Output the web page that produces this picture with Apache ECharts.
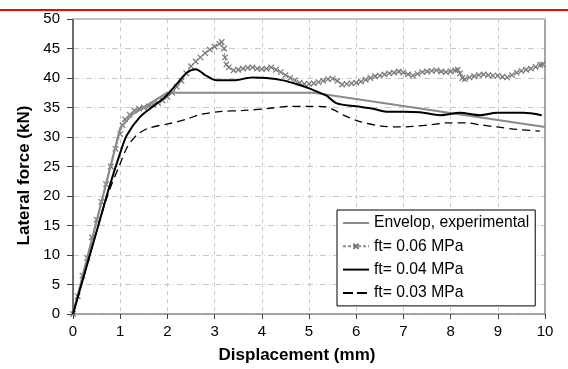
<!DOCTYPE html>
<html>
<head>
<meta charset="utf-8">
<script src="https://cdn.jsdelivr.net/npm/echarts@6/dist/echarts.min.js"></script>
<style>
html,body{margin:0;padding:0;background:#fff;}
#c{width:568px;height:369px;}
</style>
</head>
<body>
<div id="c"></div>
<script>
// ---- data ----
var xTicks = [0,1,2,3,4,5,6,7,8,9,10];
var yTicks = [0,5,10,15,20,25,30,35,40,45,50];
var seriesNames = ['Envelop, experimental','ft= 0.06 MPa','ft= 0.04 MPa','ft= 0.03 MPa'];

var envelope = [[0,0],[1,31.5],[1.25,33.8],[2,37.5],[5.1,37.5],[10,31.7]];

var ft006 = [[0,0],[0.1,3],[0.2,6.5],[0.3,9.5],[0.4,13],[0.5,16],[0.6,19],[0.7,22],[0.8,25],[0.9,28],
 [1.0,30.5],[1.05,32],[1.1,33],[1.2,33.8],[1.3,34.5],[1.4,34.8],[1.5,35],[1.6,35.2],[1.7,35.5],[1.8,35.8],
 [1.9,36.2],[2.0,36.8],[2.1,37.5],[2.2,38.5],[2.3,39.5],[2.4,40.8],[2.5,42],[2.6,42.8],[2.7,43.5],[2.8,44.2],
 [2.9,44.8],[3.0,45.3],[3.1,45.8],[3.15,46.1],[3.2,45],[3.22,43.5],[3.25,42.3],[3.3,41.8],[3.4,41.3],[3.5,41.4],
 [3.6,41.6],[3.7,41.7],[3.8,41.8],[3.9,41.6],[4.0,41.5],[4.1,41.6],[4.2,41.8],[4.3,41.4],[4.4,41.0],[4.5,40.5],
 [4.6,40.0],[4.7,39.6],[4.8,39.2],[4.9,39.0],[5.0,39.0],[5.1,39.1],[5.2,39.3],[5.3,39.5],[5.4,39.8],[5.5,39.9],
 [5.6,39.5],[5.7,38.9],[5.8,39.0],[5.9,39.1],[6.0,39.2],[6.1,39.4],[6.2,39.7],[6.3,40.0],[6.4,40.3],[6.5,40.4],
 [6.6,40.6],[6.7,40.8],[6.8,40.9],[6.9,41.1],[7.0,40.9],[7.1,40.6],[7.2,40.4],[7.3,40.7],[7.4,41.0],[7.5,41.1],
 [7.6,41.2],[7.7,41.3],[7.8,41.1],[7.9,41.0],[8.0,41.1],[8.1,41.3],[8.15,41.4],[8.2,40.8],[8.25,40.0],[8.3,39.8],
 [8.4,40.1],[8.5,40.3],[8.6,40.5],[8.7,40.6],[8.8,40.5],[8.9,40.4],[9.0,40.4],[9.1,40.2],[9.2,40.1],[9.3,40.5],
 [9.4,40.9],[9.5,41.2],[9.6,41.4],[9.7,41.6],[9.8,41.9],[9.9,42.2],[9.95,42.3]];

var ft004 = [[0,0],[0.25,7],[0.5,14],[0.75,21],[1,27.3],[1.14,30.3],[1.42,33.4],[1.7,35.2],[1.98,37],[2.2,39],
 [2.41,40.9],[2.6,41.5],[2.8,40.5],[3.04,39.6],[3.4,39.6],[3.8,40.1],[4.1,40],[4.45,39.6],[4.8,38.8],[5.02,38.2],
 [5.2,37.6],[5.37,37],[5.59,35.7],[6.0,35.2],[6.36,34.8],[6.64,34.3],[7.0,34.3],[7.35,34.2],[7.78,33.7],[8.2,34.1],
 [8.62,33.7],[8.98,34.1],[9.54,34.1],[9.93,33.7]];

var ft003 = [[0,0],[0.25,7],[0.5,14],[0.75,20.5],[1,25.5],[1.15,28.3],[1.35,30.3],[1.6,31.5],[2.06,32.3],[2.4,33],
 [2.69,33.8],[3.1,34.3],[3.61,34.5],[4.1,34.8],[4.6,35.2],[5.0,35.2],[5.37,35.1],[5.55,34.5],[5.73,33.7],[6.08,32.6],
 [6.5,31.9],[6.93,31.7],[7.2,31.8],[7.6,32.1],[7.92,32.4],[8.34,32.4],[8.6,32.1],[8.98,31.7],[9.4,31.3],[9.89,31.0]];

// ---- chart ----
var FONT = '"Liberation Sans", Arial, sans-serif';
// cross glyph padded by invisible move-to points so it fills about half of its box
var crossPath = 'path://M-6,-6M16,16M0,0L10,10M10,0L0,10';
var noMark = {opacity:0};
var chart = echarts.init(document.getElementById('c'), null, {renderer:'canvas'});
chart.setOption({
  animation:false,
  backgroundColor:'#fff',
  textStyle:{fontFamily:FONT},
  graphic:[{type:'rect', shape:{x:0,y:9,width:568,height:2}, style:{fill:'#ff0000'}, z:100}],
  grid:{left:73, right:23, top:19, bottom:51, show:false},
  legend:{
    orient:'vertical', left:337, top:210,
    data:[
      {name:seriesNames[0], itemStyle:noMark},
      {name:seriesNames[1]},
      {name:seriesNames[2], itemStyle:noMark},
      {name:seriesNames[3], itemStyle:noMark, lineStyle:{type:[10,4]}}
    ],
    itemWidth:26, itemHeight:14, itemGap:7.3,
    backgroundColor:'#fff', borderColor:'#000', borderWidth:1,
    padding:[5,6,5,5],
    textStyle:{fontFamily:FONT, fontSize:15.7, color:'#000'}
  },
  xAxis:[{
    type:'value', min:0, max:10, interval:1,
    name:'Displacement (mm)', nameLocation:'middle', nameGap:33,
    nameTextStyle:{fontFamily:FONT, fontSize:17, fontWeight:'bold', color:'#000', padding:[0,24,0,0]},
    axisLine:{lineStyle:{color:'#8c8c8c', width:1.5}},
    axisTick:{show:true, length:5, inside:false, lineStyle:{color:'#404040'}},
    axisLabel:{fontFamily:FONT, fontSize:15, color:'#000', margin:10,
      formatter:function(v){return xTicks.indexOf(v)>=0 ? String(v) : '';}},
    splitLine:{show:true, lineStyle:{color:'#c8c8c8', type:[4,4], width:1}}
  },{
    type:'value', min:0, max:10, position:'top',
    axisLine:{show:true, onZero:false, lineStyle:{color:'#c4c4c4', width:2}},
    axisTick:{show:false}, axisLabel:{show:false}, splitLine:{show:false}
  }],
  yAxis:[{
    type:'value', min:0, max:50, interval:5,
    name:'Lateral force (kN)', nameLocation:'middle', nameGap:40, nameRotate:90,
    nameTextStyle:{fontFamily:FONT, fontSize:17, fontWeight:'bold', color:'#000', padding:[0,18,0,0]},
    axisLine:{show:true, lineStyle:{color:'#404040', width:1.5}},
    axisTick:{show:true, length:6, inside:false, lineStyle:{color:'#404040'}},
    axisLabel:{fontFamily:FONT, fontSize:15, color:'#000', margin:13,
      formatter:function(v){return yTicks.indexOf(v)>=0 ? String(v) : '';}},
    splitLine:{show:true, lineStyle:{color:'#c8c8c8', type:[6,3,1,3], width:1}}
  },{
    type:'value', min:0, max:50, position:'right',
    axisLine:{show:true, onZero:false, lineStyle:{color:'#8c8c8c', width:1.5}},
    axisTick:{show:false}, axisLabel:{show:false}, splitLine:{show:false}
  }],
  series:[
    {name:seriesNames[0], type:'line', data:envelope, symbol:'none', z:3,
     lineStyle:{color:'#8a8a8a', width:2.2}, itemStyle:{color:'#8a8a8a'}},
    {name:seriesNames[1], type:'line', data:ft006, symbol:crossPath, symbolSize:12, showSymbol:true, z:2,
     lineStyle:{color:'#8a8a8a', width:1, type:[3,2]},
     itemStyle:{color:'#777', borderColor:'#777', borderWidth:1.2}},
    {name:seriesNames[2], type:'line', data:ft004, symbol:'none', smooth:0.3, z:4,
     lineStyle:{color:'#000', width:2}, itemStyle:{color:'#000'}},
    {name:seriesNames[3], type:'line', data:ft003, symbol:'none', smooth:0.3, z:4,
     lineStyle:{color:'#000', width:1.3, type:[8,5]}, itemStyle:{color:'#000'}}
  ]
});
</script>
</body>
</html>
